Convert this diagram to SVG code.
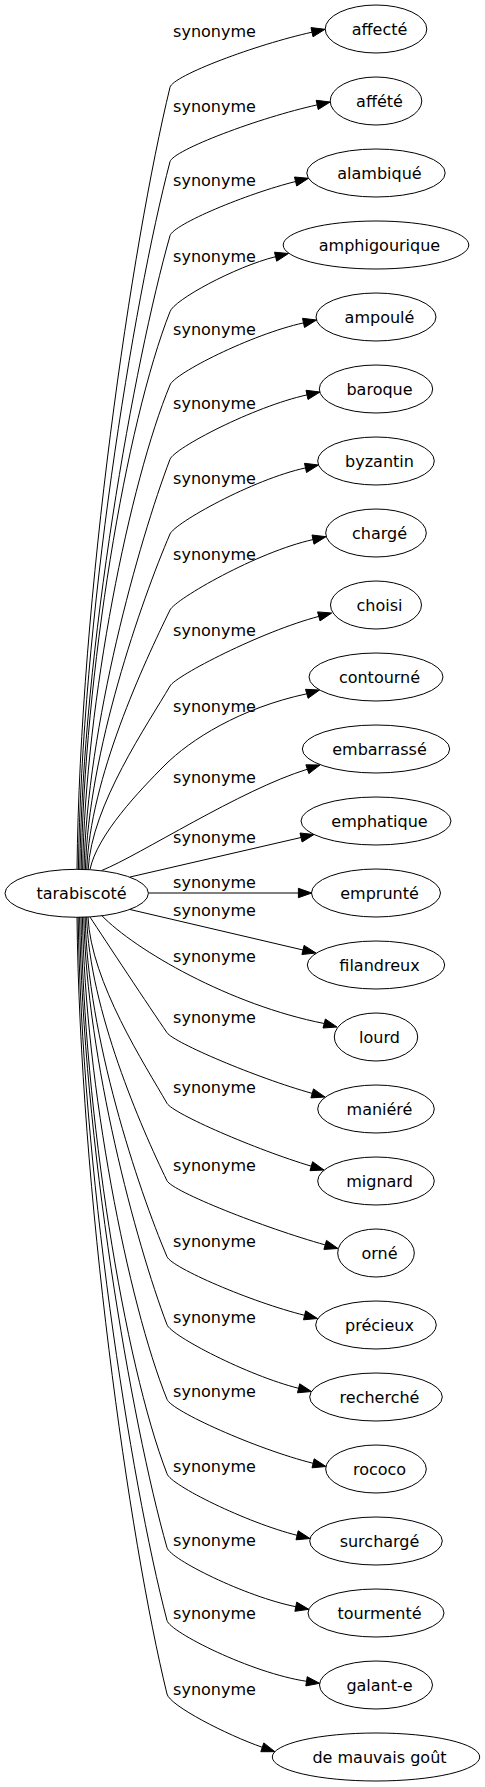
<svg xmlns="http://www.w3.org/2000/svg" width="485" height="1787" viewBox="0 0 485 1787">
<style>
text{font-family:"DejaVu Sans","Liberation Sans",sans-serif;font-size:16px;fill:#000}
.n text{text-anchor:middle}
.n ellipse{fill:none;stroke:#000;stroke-width:1}
#edges path{fill:none;stroke:#000;stroke-width:1}
#edges polygon{fill:#000;stroke:#000;stroke-width:1}
#labels text{text-anchor:middle}
</style>
<rect width="485" height="1787" fill="#fff"/>
<g id="edges">
<path d="M77,869.5 C80,595.7 132.1,243.7 170,87.3 C172.8,75.6 256.5,44.4 312,32.2"/>
<polygon points="311,27.6 325,29.3 313,36.8"/>
<path d="M78.4,869.5 C81.4,621.8 133,303.3 170,161.7 C173,150.1 259.7,117.5 317.2,104.9"/>
<polygon points="316.2,100.3 330.2,102 318.2,109.5"/>
<path d="M79.8,869.5 C82.8,647.7 134.2,362.5 170,235.7 C173.3,224.2 246.9,193.7 295.6,181.5"/>
<polygon points="294.5,177 308.5,178.3 296.7,186"/>
<path d="M81.2,869.5 C84.2,674.3 126,423.3 170,311.7 C173.6,300.2 234.6,266.9 275.6,256.7"/>
<polygon points="274.5,252.2 288.5,253.5 276.7,261.2"/>
<path d="M82.6,869.5 C85.6,699.9 130,481.9 170,385 C173.9,373.6 251.3,334.4 303.5,322.9"/>
<polygon points="302.5,318.3 316.5,320 304.5,327.5"/>
<path d="M84,869.5 C87,725.9 138.9,541.3 170,459.3 C174.25,448.1 253.5,406.7 307,394.9"/>
<polygon points="306,390.3 320,392 308,399.5"/>
<path d="M85.4,869.5 C88.4,752.1 141.3,601.1 170,534 C174.7,523 252.6,479.5 305.5,467.9"/>
<polygon points="304.5,463.3 318.5,465 306.5,472.5"/>
<path d="M86.8,869.5 C89.8,778.7 144.6,661.9 170,610 C175.3,599.2 257.1,551.9 313,539.6"/>
<polygon points="312,535 326,536.7 314,544.2"/>
<path d="M88.2,869.5 C91.2,805.3 148.8,722.7 170,686 C176,675.6 261.3,631.6 318.8,616.4"/>
<polygon points="317.6,611.9 331.7,613 320,620.9"/>
<path d="M90,869.5 C97,835 140,790 165,765 C190,740 240,708 306.8,693.8"/>
<polygon points="305.5,689.3 319.5,690 308.1,698.3"/>
<path d="M101.7,870.5 C140,855 240,790 307.4,769.2"/>
<polygon points="305.9,764.8 320,765 308.9,773.6"/>
<path d="M130,877 L301,837.5"/>
<polygon points="300,833 314,834.5 302.1,842"/>
<path d="M148.3,893 L298.4,893"/>
<polygon points="298.4,888.3 311.7,893 298.4,897.7"/>
<path d="M130,909.5 L303,950"/>
<polygon points="304.1,945.4 316,953 301.9,954.5"/>
<path d="M101.7,915.5 C135,950 230,1005 324.2,1023.5"/>
<polygon points="325.4,1019 337,1027 323,1028"/>
<path d="M90,917 C105,940 150,1008 167,1032.7 C173.8,1042.6 256.2,1077.7 312.2,1093.4"/>
<polygon points="313.5,1088.9 325,1097 310.9,1097.9"/>
<path d="M88,917 C91,982.2 145.7,1066 167,1103.3 C173,1113.7 256,1149.6 311.3,1166.2"/>
<polygon points="312.6,1161.7 324,1170 310,1170.7"/>
<path d="M86.6,917 C89.6,1009.3 141.3,1128 167,1180.7 C172.3,1191.5 264.2,1227.8 325.2,1244.9"/>
<polygon points="326.5,1240.4 338,1248.5 323.9,1249.4"/>
<path d="M85.2,917 C87.2,1035.9 138.2,1188.8 167,1256.7 C171.7,1267.7 251.2,1302 304.6,1315.3"/>
<polygon points="305.7,1310.8 317.5,1318.5 303.5,1319.8"/>
<path d="M83.8,917 C86.8,1059.7 136,1243.2 167,1324.7 C171.3,1335.9 247.6,1375.5 298.6,1388.3"/>
<polygon points="299.7,1383.8 311.5,1391.5 297.5,1392.8"/>
<path d="M82.4,917 C85.4,1085.8 128,1302.8 167,1399.3 C170.9,1410.7 256.4,1449.1 313.1,1463.3"/>
<polygon points="314.2,1458.8 326,1466.5 312,1467.8"/>
<path d="M81,917 C84,1111.8 124,1362.4 167,1473.7 C170.55,1485.2 246.7,1522.7 297.1,1535.3"/>
<polygon points="298.2,1530.8 310,1538.5 296,1539.8"/>
<path d="M79.6,917 C82.6,1137.7 131.2,1421.6 167,1547.7 C170.3,1559.2 245.3,1596.6 295.8,1606.7"/>
<polygon points="296.7,1602.1 308.8,1609.3 294.9,1611.3"/>
<path d="M78.2,917 C81.2,1163.2 130.1,1479.8 167,1620.5 C170,1632.1 251.3,1673 306.5,1681.3"/>
<polygon points="307.2,1676.7 319.6,1683.3 305.8,1685.9"/>
<path d="M77,917 C80,1189 129.1,1538.6 167,1694 C169.8,1705.7 226.3,1734.7 262.3,1747.3"/>
<polygon points="263.8,1742.9 274.9,1751.7 260.8,1751.7"/>
</g>
<g id="labels">
<text x="214.5" y="37.3">synonyme</text>
<text x="214.5" y="111.7">synonyme</text>
<text x="214.5" y="185.7">synonyme</text>
<text x="214.5" y="261.7">synonyme</text>
<text x="214.5" y="335">synonyme</text>
<text x="214.5" y="409.3">synonyme</text>
<text x="214.5" y="484">synonyme</text>
<text x="214.5" y="560">synonyme</text>
<text x="214.5" y="636">synonyme</text>
<text x="214.5" y="711.7">synonyme</text>
<text x="214.5" y="782.7">synonyme</text>
<text x="214.5" y="843.3">synonyme</text>
<text x="214.5" y="888.3">synonyme</text>
<text x="214.5" y="916">synonyme</text>
<text x="214.5" y="961.7">synonyme</text>
<text x="214.5" y="1022.7">synonyme</text>
<text x="214.5" y="1093.3">synonyme</text>
<text x="214.5" y="1170.7">synonyme</text>
<text x="214.5" y="1246.7">synonyme</text>
<text x="214.5" y="1322.7">synonyme</text>
<text x="214.5" y="1397.3">synonyme</text>
<text x="214.5" y="1471.7">synonyme</text>
<text x="214.5" y="1545.7">synonyme</text>
<text x="214.5" y="1618.5">synonyme</text>
<text x="214.5" y="1694.5">synonyme</text>
</g>
<g id="n0" class="n"><ellipse cx="76.7" cy="893.3" rx="71.7" ry="24"/><text x="81.5" y="898.8">tarabiscoté</text></g>
<g id="n1" class="n"><ellipse cx="376" cy="29" rx="50.8" ry="24"/><text x="379.5" y="34.5">affecté</text></g>
<g id="n2" class="n"><ellipse cx="376" cy="101" rx="45.8" ry="24"/><text x="379.5" y="106.5">affété</text></g>
<g id="n3" class="n"><ellipse cx="376" cy="173" rx="69.2" ry="24"/><text x="379.5" y="178.5">alambiqué</text></g>
<g id="n4" class="n"><ellipse cx="376" cy="245" rx="92.8" ry="24"/><text x="379.5" y="250.5">amphigourique</text></g>
<g id="n5" class="n"><ellipse cx="376" cy="317" rx="60" ry="24"/><text x="379.5" y="322.5">ampoulé</text></g>
<g id="n6" class="n"><ellipse cx="376" cy="389" rx="56.7" ry="24"/><text x="379.5" y="394.5">baroque</text></g>
<g id="n7" class="n"><ellipse cx="376" cy="461" rx="58.3" ry="24"/><text x="379.5" y="466.5">byzantin</text></g>
<g id="n8" class="n"><ellipse cx="376" cy="533" rx="50.3" ry="24"/><text x="379.5" y="538.5">chargé</text></g>
<g id="n9" class="n"><ellipse cx="376" cy="605" rx="45.5" ry="24"/><text x="379.5" y="610.5">choisi</text></g>
<g id="n10" class="n"><ellipse cx="376" cy="677" rx="67" ry="24"/><text x="379.5" y="682.5">contourné</text></g>
<g id="n11" class="n"><ellipse cx="376" cy="749" rx="73.7" ry="24"/><text x="379.5" y="754.5">embarrassé</text></g>
<g id="n12" class="n"><ellipse cx="376" cy="821" rx="75" ry="24"/><text x="379.5" y="826.5">emphatique</text></g>
<g id="n13" class="n"><ellipse cx="376" cy="893" rx="64.5" ry="24"/><text x="379.5" y="898.5">emprunté</text></g>
<g id="n14" class="n"><ellipse cx="376" cy="965" rx="68.7" ry="24"/><text x="379.5" y="970.5">filandreux</text></g>
<g id="n15" class="n"><ellipse cx="376" cy="1037" rx="41.7" ry="24"/><text x="379.5" y="1042.5">lourd</text></g>
<g id="n16" class="n"><ellipse cx="376" cy="1109" rx="58.3" ry="24"/><text x="379.5" y="1114.5">maniéré</text></g>
<g id="n17" class="n"><ellipse cx="376" cy="1181" rx="58.3" ry="24"/><text x="379.5" y="1186.5">mignard</text></g>
<g id="n18" class="n"><ellipse cx="376" cy="1253" rx="38.3" ry="24"/><text x="379.5" y="1258.5">orné</text></g>
<g id="n19" class="n"><ellipse cx="376" cy="1325" rx="60.3" ry="24"/><text x="379.5" y="1330.5">précieux</text></g>
<g id="n20" class="n"><ellipse cx="376" cy="1397" rx="66.3" ry="24"/><text x="379.5" y="1402.5">recherché</text></g>
<g id="n21" class="n"><ellipse cx="376" cy="1469" rx="50.3" ry="24"/><text x="379.5" y="1474.5">rococo</text></g>
<g id="n22" class="n"><ellipse cx="376" cy="1541" rx="66.3" ry="24"/><text x="379.5" y="1546.5">surchargé</text></g>
<g id="n23" class="n"><ellipse cx="376" cy="1613" rx="68" ry="24"/><text x="379.5" y="1618.5">tourmenté</text></g>
<g id="n24" class="n"><ellipse cx="376" cy="1685" rx="56.5" ry="24"/><text x="379.5" y="1690.5">galant-e</text></g>
<g id="n25" class="n"><ellipse cx="376" cy="1757" rx="103.7" ry="24"/><text x="379.5" y="1762.5">de mauvais goût</text></g>
</svg>
